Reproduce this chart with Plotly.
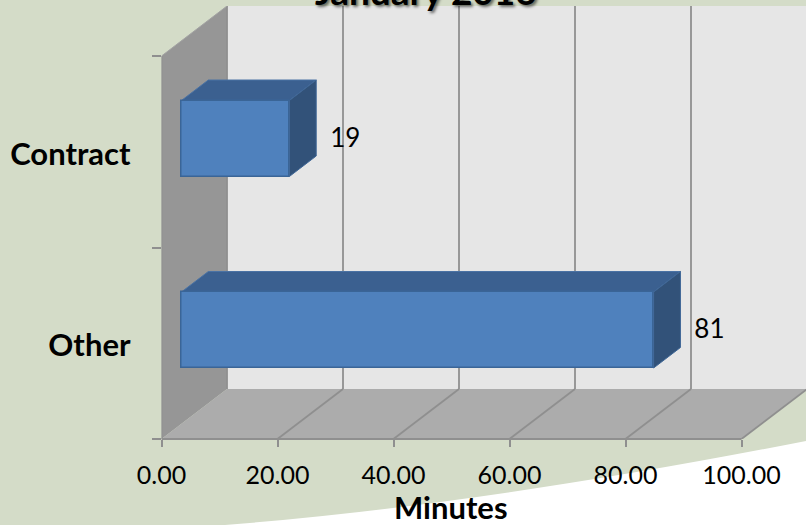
import plotly.graph_objects as go

categories = ["Other", "Contract"]
minutes = [81.4, 18.6]
x_ticks = [0, 20, 40, 60, 80, 100]
x_tick_labels = ["0.00", "20.00", "40.00", "60.00", "80.00", "100.00"]
axis_title = "Minutes"
chart_title = "January 2016"

W, H = 806, 525
PX_L, PX_R, PX_B, PX_T = 161.5, 806, 439, 6
PX_PER_X = 5.8
PX_PER_CAT = 191.5
DX = 65.5 / PX_PER_X      # oblique depth, x units
DY = 50 / PX_PER_CAT      # oblique depth, category units
Y0 = -0.5
Y1 = 1.5
X1 = (PX_R - PX_L) / PX_PER_X
YTOP = Y0 + (PX_B - PX_T) / PX_PER_CAT
BAR_H = 76 / PX_PER_CAT
BAR_F = 0.305             # front of the bar in the depth
BAR_D = 0.41              # depth of the bar

FONT = "Lato"
GRID = "#8f8f8f"


def path(points):
    return "M " + " L ".join(f"{x} {y}" for x, y in points) + " Z"


def poly(points, fill, line=None, lw=0):
    return dict(type="path", path=path(points), xref="x", yref="y", layer="below",
                fillcolor=fill, line=dict(color=line or fill, width=lw))


def seg(x0, y0, x1, y1, color=GRID, width=1.8):
    return dict(type="line", x0=x0, y0=y0, x1=x1, y1=y1, xref="x", yref="y", layer="below",
                line=dict(color=color, width=width))


shapes = [
    dict(type="path", xref="paper", yref="paper", layer="below", fillcolor="#ffffff",
         line=dict(width=0),
         path=f"M 1 {1-441/H} Q {480/W} {1-505/H} {225/W} 0 L 1 0 Z"),
]
shapes += [
    poly([(DX, Y0 + DY), (X1, Y0 + DY), (X1, YTOP), (DX, YTOP)], "#e6e6e6"),
    poly([(0, Y0), (DX, Y0 + DY), (DX, YTOP), (0, Y1)], "#969696"),
    poly([(0, Y0), (100, Y0), (100 + DX, Y0 + DY), (DX, Y0 + DY)], "#acacac"),
]
for v in x_ticks:
    if v > 0:
        shapes.append(seg(v, Y0, v + DX, Y0 + DY))
    if v < 100:
        shapes.append(seg(v + DX, Y0 + DY, v + DX, YTOP))
shapes.append(seg(0, Y0, 0, Y1))
shapes.append(seg(0, Y1, DX, YTOP, "#a3a3a3", 1))
shapes.append(dict(type="line", xref="x", yref="paper", x0=0, x1=100, y0=1 - PX_B / H, y1=1 - PX_B / H,
                   layer="above", line=dict(color=GRID, width=1.8)))

base_x = BAR_F * DX
base_y = BAR_F * DY - 2 / PX_PER_CAT
for i, v in enumerate(minutes):
    x0, x1 = base_x, base_x + v
    y0, y1 = i + base_y - BAR_H / 2, i + base_y + BAR_H / 2
    ddx, ddy = BAR_D * DX, BAR_D * DY
    shapes.append(poly([(x0, y1), (x1, y1), (x1 + ddx, y1 + ddy), (x0 + ddx, y1 + ddy)], "#3b6090", "#4a72a4", 1))
    shapes.append(poly([(x1, y0), (x1 + ddx, y0 + ddy), (x1 + ddx, y1 + ddy), (x1, y1)], "#325279", "#3f6797", 1))

fig = go.Figure()
fig.add_trace(go.Bar(
    y=[i + base_y for i in range(len(categories))], x=minutes, base=[base_x] * len(minutes),
    orientation="h", width=BAR_H,
    marker=dict(color="#4f81bd", line=dict(color="#3a6597", width=1.5)),
    hoverinfo="skip", showlegend=False,
))
fig.add_trace(go.Scatter(
    x=[base_x + v + BAR_D * DX + 2.4 for v in minutes],
    y=[i + base_y - 0.01 for i in range(len(categories))],
    mode="text", text=[f"{v:.0f}" for v in minutes], textposition="middle right",
    textfont=dict(family=FONT, size=26, color="#000000"),
    hoverinfo="skip", showlegend=False,
))

fig.update_layout(
    width=W, height=H, margin=dict(l=0, r=0, t=0, b=0), autosize=False,
    paper_bgcolor="#d4dcc8", plot_bgcolor="rgba(0,0,0,0)", showlegend=False,
    shapes=shapes, bargap=0,
    xaxis=dict(
        domain=[PX_L / W, PX_R / W], range=[0, X1], showgrid=False, zeroline=False, showline=False,
        automargin=False,
        tickmode="array", tickvals=x_ticks, ticktext=x_tick_labels,
        ticks="outside", ticklen=7, tickwidth=1.5, tickcolor=GRID,
        tickfont=dict(family=FONT, size=25, color="#000000"), ticklabelstandoff=7,
    ),
    yaxis=dict(
        domain=[1 - PX_B / H, 1 - PX_T / H], range=[Y0, YTOP], showgrid=False, zeroline=False, showline=False,
        automargin=False,
        tickmode="array", tickvals=[i - 0.012 for i in range(len(categories))], ticktext=categories,
        ticks="", tickfont=dict(family=FONT, size=31, color="#000000", weight="bold"), ticklabelstandoff=30,
        minor=dict(tickmode="array", tickvals=[-0.5, 0.5, 1.5], ticks="outside", ticklen=9, tickwidth=1.5, tickcolor=GRID),
    ),
    annotations=[
        dict(text=f"<b>{axis_title}</b>", xref="paper", yref="paper", x=451 / W, y=1 - 507 / H, yanchor="middle",
             showarrow=False, font=dict(family=FONT, size=31, color="#000000")),
        dict(text=f"<b>{chart_title}</b>", xref="paper", yref="paper", x=426 / W, y=1 + 10 / H, yanchor="middle", showarrow=False,
             font=dict(family=FONT, size=37, color="#000000", shadow="2px 2px 3px rgba(0,0,0,0.55)")),
    ],
)
fig.write_html("out.html", config={"displayModeBar": False}, post_script="document.body.style.margin='0';")
